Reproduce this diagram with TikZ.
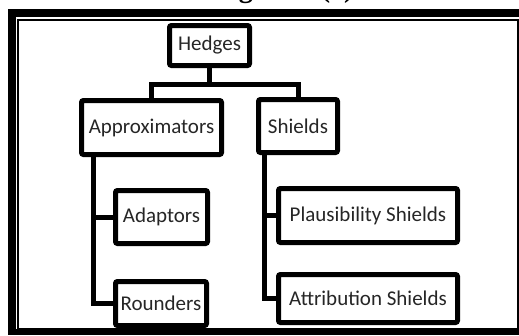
\documentclass[tikz,border=0pt]{standalone}
\usepackage{fontspec}
\setmainfont{Carlito}
\newfontfamily\titlefont{Liberation Serif}
\begin{document}
\begin{tikzpicture}[x=1pt, y=-1pt, line width=5pt]
\tikzstyle{box}=[draw, rounded corners=2pt, inner sep=0pt, text=black!85,
                 font=\fontsize{21}{25}\selectfont]
\tikzstyle{link}=[line width=5pt]
\useasboundingbox (0,0) rectangle (519,335);
% double frame, cut off on the right and at the bottom
\fill[black] (8,9) rectangle (519,335);
\fill[white] (16,17) rectangle (519,329);
\draw[line width=2pt] (18,20) rectangle (517.5,328.5);
% title, mostly above the page
\node[anchor=base east, inner sep=0pt,
      font=\titlefont\bfseries\fontsize{28}{32}\selectfont] (title) at (356,-2.5) {Figure 2 (a)};
  \foreach \place/\name/\bw/\bh/\lbl in {{(209.5,45.5)/hedges/80/40/Hedges},
                                        {(151.5,127.5)/approx/140/54/Approximators},
                                        {(298,126)/shields/79/53/Shields},
                                        {(161.5,217)/adaptors/92/53/Adaptors},
                                        {(161,303.5)/rounders/91/44/Rounders},
                                        {(368,215.5)/plaus/179/54/Plausibility Shields},
                                        {(368,298.5)/attrib/179/48/Attribution Shields}}
    \node[box, minimum width=\bw pt, minimum height=\bh pt] (\name) at \place {\lbl};
  \foreach \dest in {approx,shields}
      \draw[link] (hedges.south) -- ++(0,16) -| (\dest.north);
  \foreach \dest in {adaptors,rounders}
      \draw[link] ([xshift=14pt]approx.south west) |- (\dest.west);
  \foreach \dest in {plaus,attrib}
      \draw[link] ([xshift=8pt]shields.south west) |- (\dest.west);
\end{tikzpicture}
\end{document}
